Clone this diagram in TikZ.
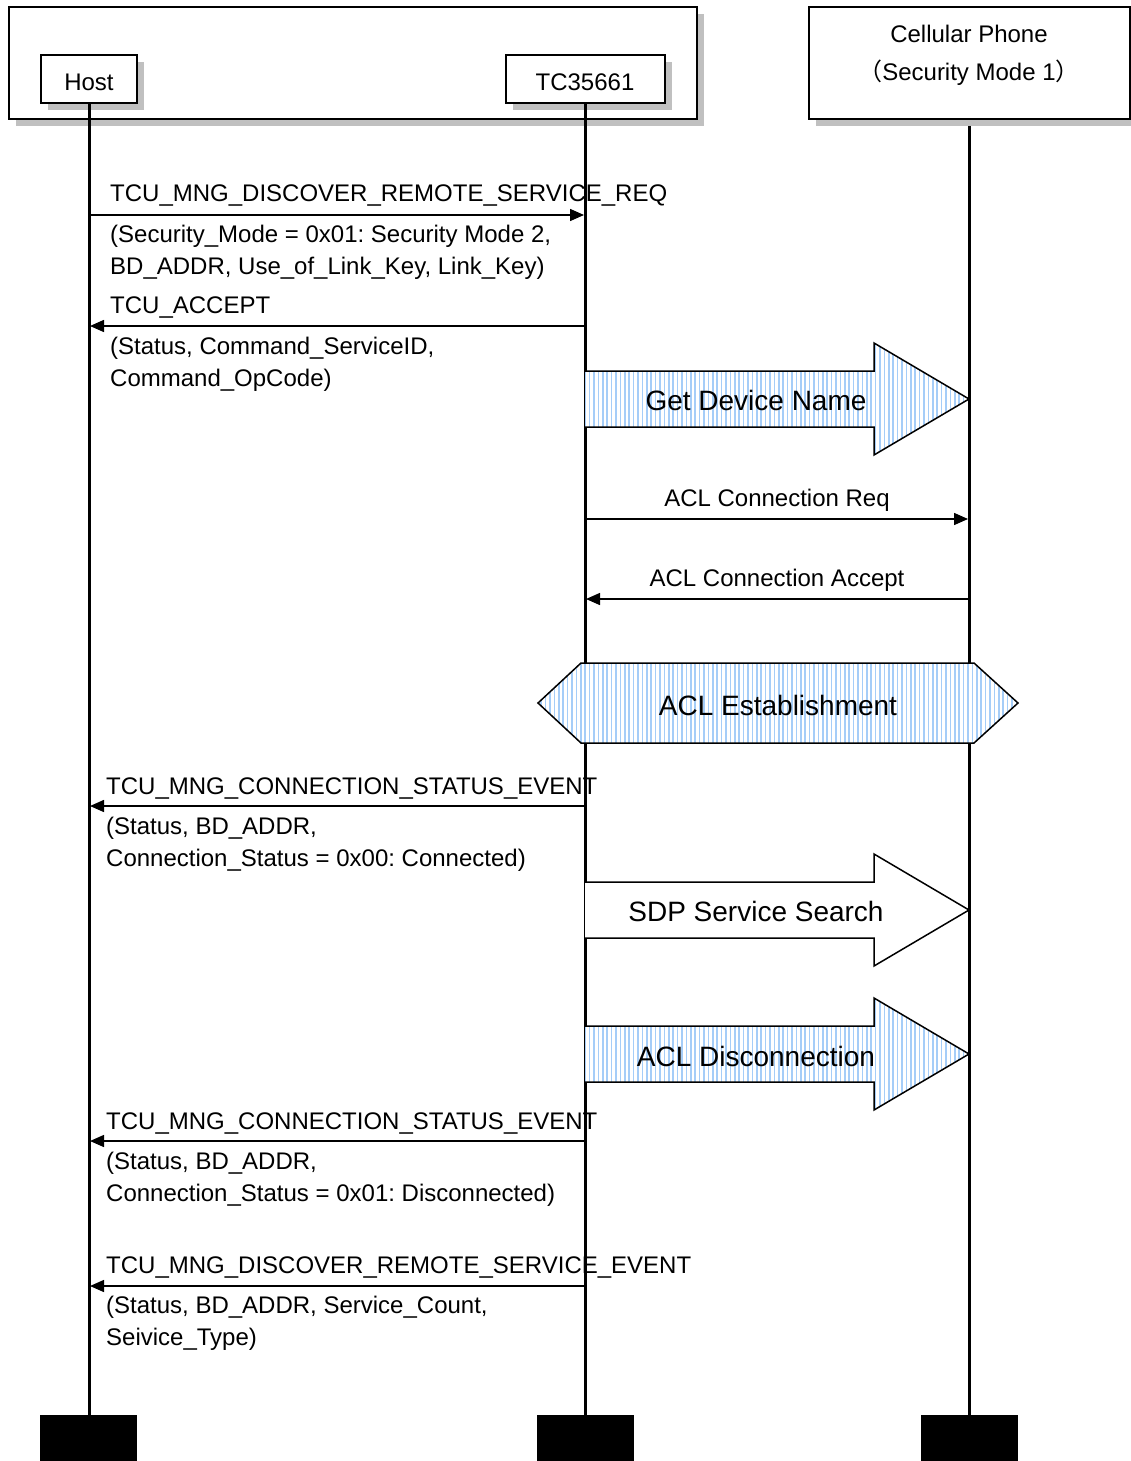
\documentclass[tikz,border=0pt]{standalone}
\usepackage{fontspec}
\setmainfont{Liberation Sans}
\newfontfamily\cjk{Noto Sans CJK JP}
\usetikzlibrary{arrows.meta,patterns.meta,shadows}
\frenchspacing
\definecolor{shadowgray}{RGB}{192,192,192}
\definecolor{hatch}{RGB}{165,205,248}
\tikzset{
  box/.style={draw=black, line width=2pt, fill=white, inner sep=0pt,
    drop shadow={shadow xshift=7pt, shadow yshift=-7pt, fill=shadowgray, opacity=1}},
  hdr/.style={font=\fontsize{24}{28}\selectfont, inner sep=0pt, anchor=base},
  msg/.style={font=\fontsize{24}{28}\selectfont, inner sep=0pt, anchor=base west},
  cmsg/.style={font=\fontsize{24}{28}\selectfont, inner sep=0pt, anchor=base},
  big/.style={font=\fontsize{28}{32}\selectfont, inner sep=0pt, anchor=base},
  life/.style={line width=3pt},
  endblock/.style={fill=black, inner sep=0pt, minimum width=97pt, minimum height=46pt},
  marrow/.style={line width=1.5pt, -{Triangle[length=14pt,width=12pt]}},
  hatched/.style={preaction={fill=white}, pattern={Lines[angle=90,distance=4.4pt,line width=1.5pt]}, pattern color=hatch},
  bigshape/.style={draw=black, line width=1.5pt, line join=miter},
}
\begin{document}
\begin{tikzpicture}[x=1pt,y=-1pt]
\useasboundingbox (0,0) rectangle (1131,1461);
% header boxes
\node[box, minimum width=688pt, minimum height=112pt] (grp) at (353,63) {};
\node[box, minimum width=96pt, minimum height=48pt] (host) at (89,79) {};
\node[hdr] (hostt) at (89,91) {Host};
\node[box, minimum width=159pt, minimum height=48pt] (tc) at (585.5,79) {};
\node[hdr] (tct) at (585,91) {TC35661};
\node[box, minimum width=321pt, minimum height=112pt] (cell) at (969.5,63) {};
\node[hdr] (cellt1) at (969,43) {Cellular Phone};
\node[hdr] (cellt2) at (969,81) {{\cjk （}Security Mode 1{\cjk ）}};
% end blocks
\node[endblock] (hostend) at (88.5,1438) {};
\node[endblock] (tcend) at (585.5,1438) {};
\node[endblock] (cellend) at (969.5,1438) {};
% lifelines
\draw[life] (89,103) coordinate (hl0) -- (hl0 |- hostend.north);
\draw[life] (585,103) coordinate (tl0) -- (tl0 |- tcend.north);
\draw[life] (969,126) coordinate (cl0) -- (cl0 |- cellend.north);

% message 1
\node[msg] (m1a) at (110,201) {TCU\_MNG\_DISCOVER\_REMOTE\_SERVICE\_REQ};
\node[msg] (m1b) at (110,242) {(Security\_Mode = 0x01: Security Mode 2,};
\node[msg] (m1c) at (110,274) {BD\_ADDR, Use\_of\_Link\_Key, Link\_Key)};
\coordinate (h1) at (89,215); \coordinate (t1) at (584,215);
\draw[marrow] (h1) -- (t1);
% message 2
\node[msg] (m2a) at (110,313) {TCU\_ACCEPT};
\node[msg] (m2b) at (110,354) {(Status, Command\_ServiceID,};
\node[msg] (m2c) at (110,386) {Command\_OpCode)};
\coordinate (t2) at (585,326); \coordinate (h2) at (90,326);
\draw[marrow] (t2) -- (h2);

% Get Device Name
\path[hatched] (585,371) -- (874,371) -- (874,343) -- (969,399) -- (874,455) -- (874,427) -- (585,427) -- cycle;
\draw[bigshape] (585,371) -- (874,371) -- (874,343) -- (969,399) -- (874,455) -- (874,427) -- (585,427);
\node[big] (gdn) at (756,410) {Get Device Name};

% ACL connection req / accept
\node[cmsg] (acr) at (777,506) {ACL Connection Req};
\coordinate (t3) at (585,519); \coordinate (c3) at (968,519);
\draw[marrow] (t3) -- (c3);
\node[cmsg] (aca) at (777,586) {ACL Connection Accept};
\coordinate (c4) at (969,599); \coordinate (t4) at (586,599);
\draw[marrow] (c4) -- (t4);

% ACL Establishment
\path[hatched] (538,703) -- (581,663) -- (974,663) -- (1018,703) -- (974,743) -- (581,743) -- cycle;
\draw[bigshape] (538,703) -- (581,663) -- (974,663) -- (1018,703) -- (974,743) -- (581,743) -- cycle;
\node[big] (acle) at (778,715) {ACL Establishment};

% message 3
\node[msg] (m3a) at (106,794) {TCU\_MNG\_CONNECTION\_STATUS\_EVENT};
\node[msg] (m3b) at (106,834) {(Status, BD\_ADDR,};
\node[msg] (m3c) at (106,866) {Connection\_Status = 0x00: Connected)};
\coordinate (t5) at (585,806); \coordinate (h5) at (90,806);
\draw[marrow] (t5) -- (h5);

% SDP Service Search
\draw[bigshape, fill=white] (585,882) -- (874,882) -- (874,854) -- (969,910) -- (874,966) -- (874,938) -- (585,938);
\node[big] (sdp) at (756,921) {SDP Service Search};

% ACL Disconnection
\path[hatched] (585,1026) -- (874,1026) -- (874,998) -- (969,1054) -- (874,1110) -- (874,1082) -- (585,1082) -- cycle;
\draw[bigshape] (585,1026) -- (874,1026) -- (874,998) -- (969,1054) -- (874,1110) -- (874,1082) -- (585,1082);
\node[big] (acld) at (756,1066) {ACL Disconnection};

% message 4
\node[msg] (m4a) at (106,1129) {TCU\_MNG\_CONNECTION\_STATUS\_EVENT};
\node[msg] (m4b) at (106,1169) {(Status, BD\_ADDR,};
\node[msg] (m4c) at (106,1201) {Connection\_Status = 0x01: Disconnected)};
\coordinate (t6) at (585,1141); \coordinate (h6) at (90,1141);
\draw[marrow] (t6) -- (h6);

% message 5
\node[msg] (m5a) at (106,1273) {TCU\_MNG\_DISCOVER\_REMOTE\_SERVICE\_EVENT};
\node[msg] (m5b) at (106,1313) {(Status, BD\_ADDR, Service\_Count,};
\node[msg] (m5c) at (106,1345) {Seivice\_Type)};
\coordinate (t7) at (585,1286); \coordinate (h7) at (90,1286);
\draw[marrow] (t7) -- (h7);
\end{tikzpicture}
\end{document}
